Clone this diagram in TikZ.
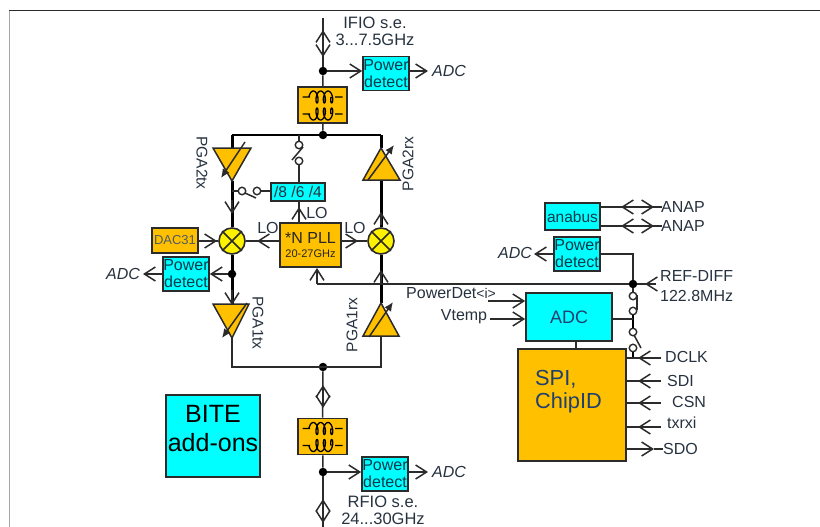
\documentclass[tikz,border=0pt]{standalone}
\usepackage{fontspec}
\setmainfont{Liberation Sans}
\usetikzlibrary{arrows.meta,calc}
\definecolor{gold}{HTML}{FFC000}
\definecolor{cy}{HTML}{00FFFF}
\definecolor{ink}{HTML}{26323F}
\definecolor{edgeg}{HTML}{2B2B2B}
\definecolor{bluet}{HTML}{1F3F6F}
\definecolor{tealt}{HTML}{0B3A4A}
\newcommand{\fs}[2]{\fontsize{#1}{#2}\selectfont}
\tikzset{
  x=1pt,y=-1pt,
  conn/.style={draw=edgeg,line width=1.5pt},
  thick line/.style={draw=black,line width=3pt},
  endbarb/.style={-{Straight Barb[length=11pt,width=14pt]}},
  boxn/.style={draw=edgeg,line width=1.7pt,inner sep=0pt,align=center,text=ink},
  cybox/.style={boxn,fill=cy},
  gbox/.style={boxn,fill=gold},
  pdet/.style={cybox,minimum width=46pt,minimum height=34pt,font=\fs{16}{17},text=tealt},
  xfmr/.style={gbox,minimum width=49pt,minimum height=36pt},
  dotn/.style={circle,fill=black,inner sep=0pt,minimum size=8.5pt},
  sw/.style={circle,draw=edgeg,fill=white,line width=1.4pt,inner sep=0pt,minimum size=7.5pt},
  mixer/.style={circle,draw=edgeg,fill=yellow,line width=1.6pt,inner sep=0pt,minimum size=26pt},
  lab/.style={font=\fs{16}{17},text=ink,inner sep=0pt,align=center},
  toplab/.style={lab,font=\fs{16.5}{17}},
  adcl/.style={font=\fs{16}{17}\itshape,text=ink,inner sep=0pt},
  pga/.style={draw=edgeg,fill=gold,line width=1.5pt,line join=miter},
  gain/.style={draw=edgeg,line width=1.5pt,-{Latex[length=9pt,width=8pt]}},
  coil line/.style={draw=black,line width=1.3pt,line join=round}
}
\begin{document}
\begin{tikzpicture}
\useasboundingbox (0,0) rectangle (820,527);
% frame
\draw[draw=black!35,line width=1.5pt] (9.5,11) -- (9.5,527);
\draw[draw=edgeg,line width=1pt] (9,11) -- (820,11);

% nodes: boxes
\node[xfmr] (tt) at (322.5,105) {};
\node[xfmr] (tb) at (322.5,436.5) {};
\node[pdet] (pd1) at (386,73.5) {Power\\detect};
\node[pdet] (pd2) at (186,274) {Power\\detect};
\node[pdet] (pd3) at (577,254) {Power\\detect};
\node[pdet] (pd4) at (385,474) {Power\\detect};
\node[cybox,minimum width=54pt,minimum height=18pt,font=\fs{15.6}{16}] (div) at (298,192) {/8 /6 /4};
\node[gbox,minimum width=61pt,minimum height=44pt,text=black!85] (pll) at (310.5,245) {};
\node[lab,text=black!85,font=\fs{16}{17}] (plla) at (310.5,238) {*N PLL};
\node[lab,text=black!85,font=\fs{11}{12}] (pllb) at (310.5,254) {20-27GHz};
\node[gbox,minimum width=46pt,minimum height=25pt,font=\fs{13}{14},text=ink!80] (dac) at (175,240.5) {DAC31};
\node[mixer] (ml) at (232,241) {};
\node[mixer] (mr) at (381,241) {};
\node[cybox,minimum width=55pt,minimum height=27pt,font=\fs{15.5}{16},text=tealt] (ana) at (572.5,216.5) {anabus};
\node[cybox,minimum width=86pt,minimum height=48pt,font=\fs{18}{19},text=bluet] (adc) at (569,317) {ADC};
\node[gbox,minimum width=108pt,minimum height=112pt] (spi) at (572,405) {};
\node[cybox,minimum width=94pt,minimum height=82pt] (bite) at (213,436) {};
\node[lab,font=\fs{25}{29},text=black] (bitet) at (213,428.5) {BITE\\add-ons};

% junction points
\node[dotn] (d1) at (323,71) {};
\node[dotn] (d2) at (323,135) {};
\node[dotn] (d3) at (232,274) {};
\node[dotn] (d4) at (323,367) {};
\node[dotn] (d5) at (323,472) {};
\node[dotn] (d6) at (633,284) {};

% free ends
\coordinate (ifio) at (323,18);
\coordinate (rfio) at (323,527);
\coordinate (tl) at (232,135);
\coordinate (tr) at (381,135);
\coordinate (bl) at (232,367);
\coordinate (br) at (381,367);
\coordinate (pgtxT) at (232,148);
\coordinate (pgtxA) at (232,181);
\coordinate (pg1tT) at (232,304);
\coordinate (pg1tA) at (232,338);
\coordinate (pgrxA) at (381,148);
\coordinate (pgrxB) at (381,180);
\coordinate (pg1rA) at (381,303);
\coordinate (pg1rB) at (381,336);

% main thin connectors
\draw[conn] (ifio) -- (d1);
\draw[conn] (d1) -- (tt);
\draw[conn] (tt) -- (d2);
\draw[conn] (d4) -- (tb);
\draw[conn] (tb) -- (d5);
\draw[conn] (d5) -- (rfio);
\draw[thick line,line width=2.4pt] (tl) -- (tr);
\draw[thick line] (tl) -- (pgtxT);
\draw[thick line] (tr) -- (pgrxA);
\draw[conn] (pg1tA) -- (bl) -- (br) -- (pg1rB);

% double arrows (separate tips)
\coordinate (a1) at (323,30); \coordinate (a2) at (323,57);
\draw[conn,endbarb] (323,43) -- (a1);
\draw[conn,endbarb] (323,44) -- (a2);
\draw[conn,endbarb] (323,397) -- (323,385);
\draw[conn,endbarb] (323,396) -- (323,408);
\draw[conn,endbarb] (323,511) -- (323,499);
\draw[conn,endbarb] (323,511) -- (323,523);

% power detect connections
\draw[conn,endbarb] (d1) -- (d1 -| pd1.west);
\draw[conn,endbarb] (d5) -- (d5 -| pd4.west);
\node[adcl] (adc1) at (449,71) {ADC};
\node[adcl] (adc4) at (449,472) {ADC};
\node[adcl] (adc2) at (123,274) {ADC};
\node[adcl] (adc3) at (515,253) {ADC};
\coordinate (adc1t) at (428,71);
\coordinate (adc4t) at (428,472);
\coordinate (adc2t) at (143,274);
\coordinate (adc3t) at (534,254);
\draw[conn,endbarb] (pd1.east |- adc1t) -- (adc1t);
\draw[conn,endbarb] (pd4.east |- adc4t) -- (adc4t);
\draw[conn,endbarb] (pd2.west) -- (adc2t);
\draw[conn,endbarb] (pd3.west) -- (adc3t);
\draw[conn,endbarb] (d3) -- (pd2.east);

% transformer coils
\foreach \n in {tt,tb}{
  \foreach \dy/\sg in {-8/1,9/-1}{
    \draw[coil line,shift={(\n.center)}]
      (-20,\dy) -- (-12.5,\dy)
      plot[smooth,domain=0:18.85,samples=70,variable=\t]
        ({-11+1.17*\t-2.6*cos(\t r)},{\dy-\sg*6*sin(\t r)})
      (12.5,\dy) -- (20,\dy);
  }
}

% thick verticals with arrows
\coordinate (t1) at (232,214);
\draw[thick line] (pgtxA) -- (ml);
\draw[conn,endbarb] (232,200) -- (t1);
\draw[thick line] (ml) -- (pg1tT);
\coordinate (t2) at (232,305);
\draw[conn,endbarb] (232,290) -- (t2);
\draw[thick line] (pgrxB) -- (mr);
\coordinate (t3) at (381,212);
\draw[conn,endbarb] (381,225) -- (t3);
\draw[thick line] (pg1rA) -- (mr);
\coordinate (t4) at (381,270);
\draw[conn,endbarb] (381,284) -- (t4);

% triangles
\draw[pga] (213,148) -- (251,148) -- (pgtxA) -- cycle;
\draw[gain] (245,142) -- (221,178);
\draw[pga] (213,304) -- (249,304) -- (pg1tA) -- cycle;
\draw[gain] (247,303) -- (222,338);
\draw[pga] (363,180) -- (400,180) -- (pgrxA) -- cycle;
\draw[gain] (368,180) -- (394,145);
\draw[pga] (363,336) -- (399,336) -- (pg1rA) -- cycle;
\draw[gain] (369,337) -- (393,302);
\node[lab,rotate=-90,font=\fs{15.5}{16}] (l1) at (202,163) {PGA2tx};
\node[lab,rotate=90,font=\fs{15.5}{16}] (l2) at (408,164) {PGA2rx};
\node[lab,rotate=-90,font=\fs{15.5}{16}] (l3) at (258,323) {PGA1tx};
\node[lab,rotate=90,font=\fs{15.5}{16}] (l4) at (352,325) {PGA1rx};

% mixers' crosses
\foreach \m in {ml,mr}{
  \draw[edgeg,line width=1.6pt] (\m.45) -- (\m.225) (\m.135) -- (\m.315);
}

% top switch
\node[sw] (s1a) at (299,145) {};
\node[sw] (s1b) at (299,161) {};
\coordinate (s1t) at (tl -| s1a);
\draw[conn] (s1t) -- (s1a);
\draw[conn] (s1b) -- (s1b |- div.north);
\draw[conn] (303,147) -- (292,160);
% left switch
\node[sw] (s2a) at (242,191) {};
\node[sw] (s2b) at (257,191) {};
\coordinate (s2t) at (232,191);
\draw[conn] (s2t) -- (s2a);
\draw[conn] (s2b) -- (div.west |- s2b);
\draw[conn] (245,193) -- (256,198);

% LO arrows
\coordinate (c1) at (299,207);
\draw[conn] (299,223) -- (299,201);
\draw[conn,endbarb] (299,219) -- (c1);
\draw[conn] (pll.west |- ml) -- (ml);
\coordinate (c2) at (257,241);
\draw[conn,endbarb] (270,241) -- (c2);
\draw[conn] (pll.east |- mr) -- (mr);
\coordinate (c3) at (358,241);
\draw[conn,endbarb] (345,241) -- (c3);
\node[lab] (lo1) at (317,213) {LO};
\node[lab] (lo2) at (268,228) {LO};
\node[lab] (lo3) at (355,228) {LO};
\coordinate (c4) at (217,241);
\draw[conn] (dac.east |- ml) -- (ml);
\draw[conn,endbarb] (205,241) -- (c4);

% reference line
\coordinate (r1) at (317,284);
\coordinate (r2) at (317,268);
\coordinate (r3) at (656,284);
\draw[conn] (r3) -- (d6) -- (r1);
\draw[conn,endbarb] (r1) -- (r2);
\coordinate (r4) at (645,284);
\draw[conn,endbarb] (r3) -- (r4);
\node[lab,anchor=west] (rt1) at (660,276) {REF-DIFF};
\node[lab,anchor=west] (rt2) at (660,296) {122.8MHz};

% right top
\coordinate (an1) at (662,207);
\coordinate (an2) at (662,226);
\draw[conn] (ana.east |- an1) -- (an1);
\draw[conn] (ana.east |- an2) -- (an2);
\foreach \yy in {207,226}{
  \draw[conn,endbarb] (638,\yy) -- (621,\yy);
  \draw[conn,endbarb] (638,\yy) -- (654,\yy);
}
\node[lab,anchor=west] (an1t) at (661,207) {ANAP};
\node[lab,anchor=west] (an2t) at (661,226) {ANAP};
\coordinate (p1) at (633,254);
\draw[conn] (pd3.east |- p1) -- (p1) -- (d6);

% chain of switches
\node[sw] (s3a) at (633,296) {};
\node[sw] (s3b) at (633,311) {};
\node[sw] (s4a) at (633,332) {};
\node[sw] (s4b) at (633,348) {};
\draw[conn] (d6) -- (s3a);
\draw[conn] (637,295) -- (637,310);
\draw[thick line,line width=2.2pt] (s3b) -- (s4a);
\draw[conn] (634,335) -- (641,348);
\coordinate (ck) at (633,358);
\draw[thick line,line width=2pt] (s4b) -- (ck);
\draw[conn] (adc.east |- 0,319) -- (633,319);
\draw[conn] (adc.south -| 576,0) -- (spi.north -| 576,0);

% ADC inputs
\coordinate (i1) at (488,301);
\coordinate (i2) at (490,319);
\draw[conn,endbarb] (i1) -- (adc.west |- i1);
\draw[conn,endbarb] (i2) -- (adc.west |- i2);
\node[lab,anchor=west] (pdi) at (406,293) {PowerDet\fs{14}{15}<i>};
\node[lab] (vt) at (464,317) {Vtemp};

% SPI block
\node[lab,anchor=west,font=\fs{21.8}{24},text=bluet] (spit) at (535,379) {SPI,};
\node[lab,anchor=west,font=\fs{21.8}{24},text=bluet] (spit2) at (535,403) {ChipID};
\coordinate (dq) at (661,358);
\coordinate (sd) at (661,381);
\coordinate (cs) at (661,403);
\coordinate (tx) at (661,427);
\coordinate (so) at (663,449);
\foreach \pp/\yy in {dq/358,sd/381,cs/403,tx/427}{
  \draw[conn] (\pp) -- (spi.east |- \pp);
  \draw[conn,endbarb] (\pp) -- (638,\yy);
}
\draw[conn,endbarb] (spi.east |- so) -- (654,449);
\draw[conn] (654,449) -- (so);
\node[lab,anchor=west] (t1) at (665,357) {DCLK};
\node[lab,anchor=west] (t2) at (667,381) {SDI};
\node[lab,anchor=west] (t3) at (672,402) {CSN};
\node[lab,anchor=west] (t4) at (667,423) {txrxi};
\node[lab,anchor=west] (t5) at (663,449) {SDO};

% top labels
\node[toplab] (ifiot) at (375,31) {IFIO s.e.\\3...7.5GHz};
\node[toplab] (rfiot) at (383,510) {RFIO s.e.\\24...30GHz};
\end{tikzpicture}
\end{document}
